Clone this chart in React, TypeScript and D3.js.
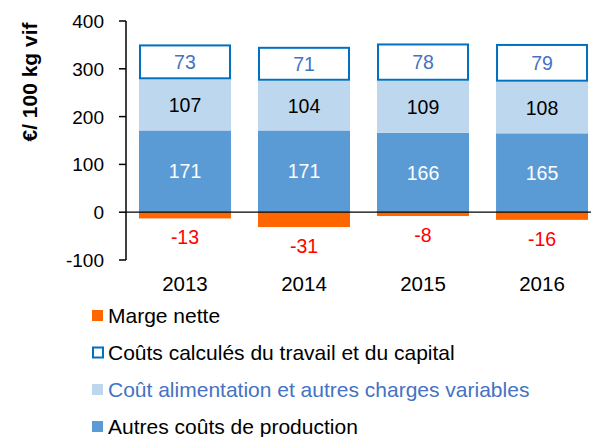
import React from "react";
import * as d3 from "d3";

const years = ["2013", "2014", "2015", "2016"];
const autresCouts = [171, 171, 166, 165];
const alimentation = [107, 104, 109, 108];
const travailCapital = [73, 71, 78, 79];
const margeNette = [-13, -31, -8, -16];
const yTicks = [-100, 0, 100, 200, 300, 400];
const legendLabels = [
  "Marge nette",
  "Coûts calculés du travail et du capital",
  "Coût alimentation et autres charges variables",
  "Autres coûts de production",
];

const W = 592;
const H = 437;
const font = "'Liberation Sans', Arial, sans-serif";

export default function App() {
  const y = d3.scaleLinear().domain([-100, 400]).range([260, 21]);
  const x = d3
    .scaleBand<string>()
    .domain(years)
    .range([126, 601])
    .paddingInner(0.227)
    .paddingOuter(0.109);
  const bw = x.bandwidth();

  const legendColors = ["#FF6600", "#FFFFFF", "#BDD7EE", "#5B9BD5"];
  const legendText = ["#000", "#000", "#4472C4", "#000"];
  const legendY = [315, 352, 389, 426];

  return (
    <svg
      width={W}
      height={H}
      style={{ position: "absolute", left: 0, top: 0, fontFamily: font }}
    >
      <rect width={W} height={H} fill="#fff" />
      {years.map((yr, i) => {
        const x0 = x(yr)!;
        const cx = x0 + bw / 2;
        const b1 = autresCouts[i];
        const b2 = b1 + alimentation[i];
        const b3 = b2 + travailCapital[i];
        return (
          <g key={yr}>
            <rect x={x0} y={y(b1)} width={bw} height={y(0) - y(b1)} fill="#5B9BD5" />
            <rect x={x0} y={y(b2)} width={bw} height={y(b1) - y(b2)} fill="#BDD7EE" />
            <rect
              x={x0 + 1}
              y={y(b3) + 1}
              width={bw - 2}
              height={y(b2) - y(b3) - 2}
              fill="#fff"
              stroke="#0070C0"
              strokeWidth={2}
            />
            <rect x={x0} y={y(0)} width={bw} height={y(margeNette[i]) - y(0)} fill="#FF6600" />
            <text x={cx} y={(y(0) + y(b1)) / 2 + 7} textAnchor="middle" fontSize={19.5} fill="#fff">
              {autresCouts[i]}
            </text>
            <text x={cx} y={(y(b1) + y(b2)) / 2 + 7} textAnchor="middle" fontSize={19.5} fill="#000">
              {alimentation[i]}
            </text>
            <text x={cx} y={(y(b2) + y(b3)) / 2 + 7} textAnchor="middle" fontSize={19.5} fill="#4472C4">
              {travailCapital[i]}
            </text>
            <text x={cx} y={y(margeNette[i]) + 26} textAnchor="middle" fontSize={19.5} fill="#FF0000">
              {margeNette[i]}
            </text>
            <text x={cx} y={291} textAnchor="middle" fontSize={20.5} fill="#000">
              {yr}
            </text>
          </g>
        );
      })}
      {/* zero line */}
      <line x1={126} x2={591} y1={y(0)} y2={y(0)} stroke="#000" strokeWidth={1.2} />
      {/* y axis */}
      <line x1={126} x2={126} y1={y(400)} y2={y(-100)} stroke="#000" strokeWidth={1.5} />
      {yTicks.map((t) => (
        <g key={t}>
          <line x1={119} x2={126} y1={y(t)} y2={y(t)} stroke="#000" strokeWidth={1.5} />
          <text x={104} y={y(t) + 7} textAnchor="end" fontSize={19} fill="#000">
            {t}
          </text>
        </g>
      ))}
      <text
        transform={`translate(37, 82) rotate(-90)`}
        textAnchor="middle"
        fontSize={21}
        fontWeight="bold"
        fill="#000"
      >
        €/ 100 kg vif
      </text>
      {legendLabels.map((l, i) => (
        <g key={l}>
          {i === 1 ? (
            <rect
              x={93}
              y={legendY[i] - 4.5}
              width={10}
              height={10}
              fill="#fff"
              stroke="#0070C0"
              strokeWidth={2}
            />
          ) : (
            <rect x={92} y={legendY[i] - 5} width={11} height={11} fill={legendColors[i]} />
          )}
          <text x={108} y={legendY[i] + 8} fontSize={21} fill={legendText[i]}>
            {l}
          </text>
        </g>
      ))}
    </svg>
  );
}
